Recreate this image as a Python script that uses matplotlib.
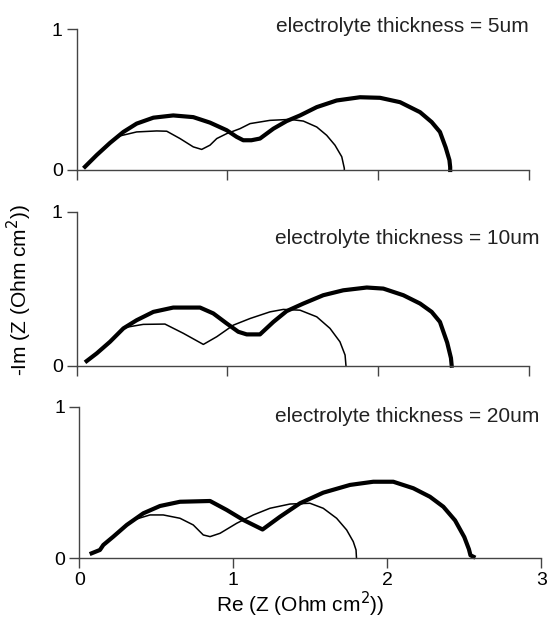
import matplotlib
matplotlib.use("Agg")
import matplotlib.pyplot as plt

plt.rcParams['font.family'] = ['Liberation Sans', 'DejaVu Sans']

titles = ["electrolyte thickness = 5um", "electrolyte thickness = 10um", "electrolyte thickness = 20um"]

# Panel 1 (5 um)
thick1_re = [0.055, 0.133, 0.221, 0.31, 0.398, 0.509, 0.641, 0.774, 0.885, 0.996, 1.062, 1.106, 1.16, 1.217,
             1.306, 1.394, 1.483, 1.594, 1.726, 1.881, 2.014, 2.147, 2.28, 2.357, 2.412, 2.45, 2.475, 2.48, 2.48]
thick1_im = [0.023, 0.106, 0.192, 0.27, 0.329, 0.371, 0.387, 0.375, 0.336, 0.282, 0.235, 0.211, 0.211, 0.223,
             0.293, 0.347, 0.387, 0.446, 0.493, 0.516, 0.512, 0.481, 0.41, 0.34, 0.27, 0.16, 0.07, 0.02, 0.0]
thin1_re = [0.055, 0.133, 0.221, 0.288, 0.398, 0.531, 0.598, 0.686, 0.774, 0.83, 0.885, 0.93, 0.996, 1.084,
            1.151, 1.283, 1.416, 1.505, 1.594, 1.66, 1.715, 1.76, 1.777, 1.777]
thin1_im = [0.023, 0.106, 0.192, 0.242, 0.27, 0.277, 0.275, 0.223, 0.164, 0.146, 0.176, 0.223, 0.258, 0.293,
            0.329, 0.352, 0.359, 0.347, 0.305, 0.246, 0.176, 0.094, 0.012, 0.0]

# Panel 2 (10 um)
thick2_re = [0.066, 0.133, 0.221, 0.31, 0.398, 0.509, 0.641, 0.819, 0.907, 0.996, 1.073, 1.129, 1.217, 1.306,
             1.394, 1.505, 1.637, 1.77, 1.926, 2.036, 2.169, 2.28, 2.357, 2.412, 2.46, 2.485, 2.49]
thick2_im = [0.03, 0.08, 0.155, 0.242, 0.295, 0.349, 0.377, 0.377, 0.339, 0.274, 0.22, 0.203, 0.203, 0.284,
             0.354, 0.403, 0.457, 0.489, 0.507, 0.5, 0.457, 0.403, 0.349, 0.284, 0.15, 0.05, 0.0]
thin2_re = [0.066, 0.133, 0.221, 0.31, 0.442, 0.586, 0.708, 0.841, 0.93, 1.04, 1.151, 1.283, 1.372, 1.483,
            1.594, 1.682, 1.748, 1.782, 1.788]
thin2_im = [0.03, 0.08, 0.155, 0.246, 0.268, 0.27, 0.21, 0.138, 0.188, 0.263, 0.306, 0.349, 0.365, 0.36,
            0.317, 0.242, 0.155, 0.069, 0.0]

# Panel 3 (20 um)
thick3_re = [0.08, 0.134, 0.156, 0.221, 0.308, 0.416, 0.524, 0.654, 0.849, 0.957, 1.065, 1.19, 1.303, 1.433,
             1.584, 1.758, 1.909, 2.039, 2.169, 2.277, 2.364, 2.44, 2.5, 2.53, 2.54, 2.56]
thick3_im = [0.033, 0.055, 0.088, 0.143, 0.22, 0.297, 0.345, 0.373, 0.378, 0.319, 0.253, 0.19, 0.274, 0.363,
             0.433, 0.484, 0.505, 0.505, 0.462, 0.406, 0.34, 0.25, 0.14, 0.06, 0.02, 0.01]
thin3_re = [0.08, 0.134, 0.156, 0.221, 0.351, 0.459, 0.545, 0.654, 0.74, 0.805, 0.849, 0.914, 1.022, 1.13,
            1.238, 1.368, 1.498, 1.584, 1.671, 1.736, 1.779, 1.797, 1.8]
thin3_im = [0.033, 0.055, 0.088, 0.143, 0.253, 0.286, 0.286, 0.264, 0.22, 0.154, 0.143, 0.165, 0.231, 0.286,
            0.33, 0.358, 0.363, 0.33, 0.264, 0.187, 0.11, 0.055, 0.0]

x_ticks = [0, 1, 2, 3]
y_ticks = [0, 1]

panels = [
    (thick1_re, thick1_im, thin1_re, thin1_im),
    (thick2_re, thick2_im, thin2_re, thin2_im),
    (thick3_re, thick3_im, thin3_re, thin3_im),
]

W, H = 549, 625
fig = plt.figure(figsize=(W / 100, H / 100), dpi=100)

# axes boxes in pixels: (left, right, top(y=1), bottom(y=0))
boxes = [(76.7, 528.5, 29, 170), (76.7, 528.5, 211.5, 365.7), (79.3, 541.3, 406.7, 558.3)]
title_pos = [(3.0, 0.98), (3.07, 0.79), (2.99, 0.90)]

for i, ((l, r, t, b), data) in enumerate(zip(boxes, panels)):
    ax = fig.add_axes([l / W, 1 - b / H, (r - l) / W, (b - t) / H])
    ax.patch.set_alpha(0)
    tr, ti, nr, ni = data
    ax.plot(nr, ni, color='black', lw=1.1, clip_on=False)
    ax.plot(tr, ti, color='black', lw=3.0, solid_joinstyle='round', clip_on=False)
    ax.set_xlim(0, 3)
    ax.set_ylim(0, 1)
    ax.set_xticks(x_ticks)
    ax.set_yticks(y_ticks)
    for s in ['top', 'right']:
        ax.spines[s].set_visible(False)
    for s in ['left', 'bottom']:
        ax.spines[s].set_color('#444444')
        ax.spines[s].set_linewidth(1.0)
    ax.tick_params(direction='out', length=7, width=1.0, color='#444444', labelsize=14, pad=3)
    if i < 2:
        ax.set_xticklabels([])
    tx, ty = title_pos[i]
    ax.text(tx, ty, titles[i], ha='right', va='baseline', fontsize=15, color='#222222')

fig.text(19 / W, 1 - 290 / H, "-Im (Z (Ohm cm$^2$))", rotation=90, ha='center', va='center', fontsize=15)
fig.text(300 / W, 1 - 604 / H, "Re (Z (Ohm cm$^2$))", ha='center', va='center', fontsize=15)

fig.savefig("out.png", dpi=100)
